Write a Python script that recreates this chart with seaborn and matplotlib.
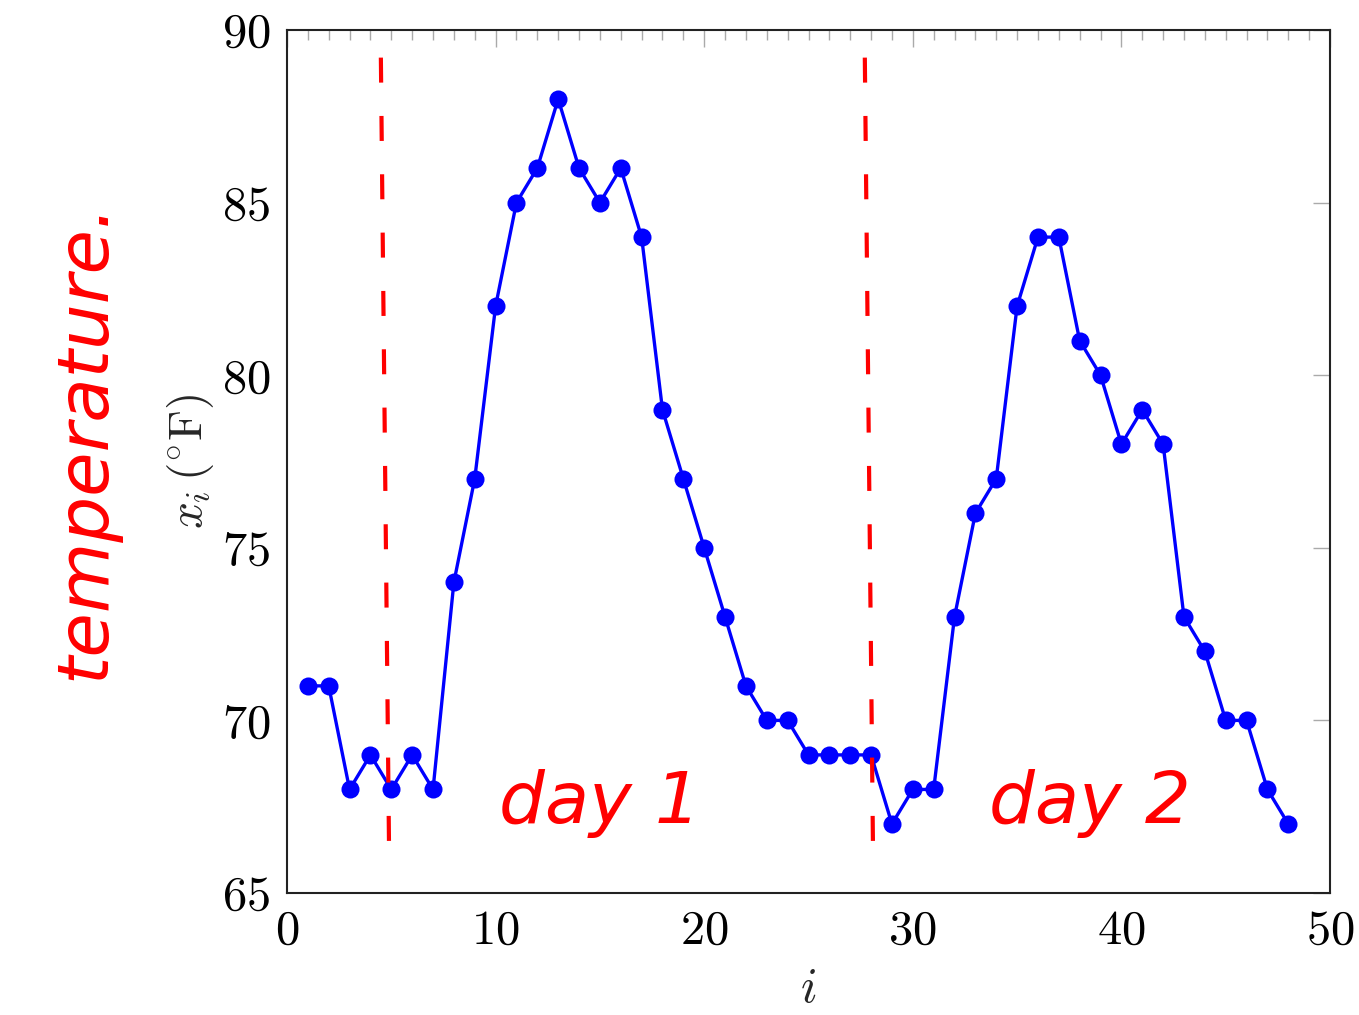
import matplotlib
matplotlib.use("Agg")
import matplotlib.pyplot as plt
from matplotlib.ticker import MultipleLocator
import pandas as pd
import seaborn as sns

# hourly temperature readings, two days
hours = list(range(1, 49))
temps = [71, 71, 68, 69, 68, 69, 68, 74, 77, 82, 85, 86, 88, 86, 85, 86,
         84, 79, 77, 75, 73, 71, 70, 70, 69, 69, 69, 69, 67, 68, 68, 73,
         76, 77, 82, 84, 84, 81, 80, 78, 79, 78, 73, 72, 70, 70, 68, 67]
x_ticks = [0, 10, 20, 30, 40, 50]
y_ticks = [65, 70, 75, 80, 85, 90]
day_labels = ["day 1", "day 2"]
day_label_x = [15, 38.5]
split_x = [4.7, 27.9]

sns.set_style("white")
plt.rcParams["font.family"] = ["cmr10", "DejaVu Serif"]
plt.rcParams["mathtext.fontset"] = "cm"
plt.rcParams["axes.formatter.use_mathtext"] = True

df = pd.DataFrame({"i": hours, "temp": temps})

fig = plt.figure(figsize=(13.59, 10.15), dpi=100)
ax = fig.add_axes([287 / 1359, 1 - 893 / 1015, (1330 - 287) / 1359, (893 - 30) / 1015])

sns.lineplot(data=df, x="i", y="temp", ax=ax, color="#0000ff", linewidth=2.4,
             marker="o", markersize=13, markeredgewidth=0)

ax.set_xlim(0, 50)
ax.set_ylim(65, 90)
ax.set_xticks(x_ticks)
ax.set_yticks(y_ticks)
ax.xaxis.set_minor_locator(MultipleLocator(1))
ax.tick_params(axis="both", which="both", direction="in", colors="#aaaaaa",
               labelcolor="black", labelsize=35, top=True, right=True, pad=12)
ax.tick_params(axis="both", which="major", length=12, width=1)
ax.tick_params(axis="x", which="minor", length=7, width=1)
for s in ax.spines.values():
    s.set_color("#222222")
    s.set_linewidth(1.5)

ax.set_xlabel("$i$", fontsize=35, labelpad=10)
ax.set_ylabel(r"$x_i\,(^{\circ}\mathrm{F})$", fontsize=34, labelpad=4)

# hand-drawn style notes
for sx in split_x:
    ax.plot([sx - 0.2, sx + 0.2], [89.2, 65.8], color="red", linewidth=3,
            linestyle=(0, (6, 8)), clip_on=False)
for lx, lab in zip(day_label_x, day_labels):
    ax.text(lx, 67.6, lab, color="red", fontsize=52, ha="center", va="center",
            family="DejaVu Sans", fontstyle="italic", fontweight="light")
fig.text(85 / 1359, 1 - 440 / 1015, "temperature.", color="red", fontsize=52,
         rotation=90, ha="center", va="center", family="DejaVu Sans",
         fontstyle="italic", fontweight="light")

fig.savefig("out.png", dpi=100)
